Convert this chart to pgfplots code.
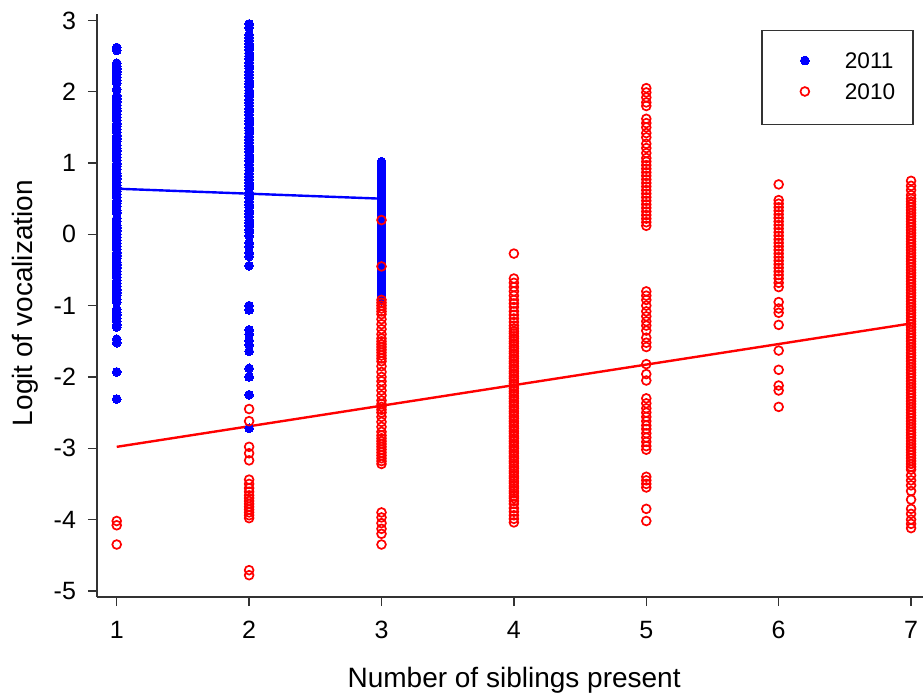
\documentclass[border=0pt]{standalone}
\usepackage{fontspec}
\setmainfont{Liberation Sans}
\usepackage{pgfplots}
\pgfplotsset{compat=1.18}
\begin{document}
\begin{tikzpicture}
\path[use as bounding box] (0,0) rectangle (461.5pt,346.5pt);
\begin{axis}[
 at={(48.5pt,48pt)}, anchor=south west,
 scale only axis, width=413pt, height=291.5pt,
 xmin=0.851, xmax=7.09, ymin=-5.086, ymax=3.09,
 axis lines=left,
 axis line style={-, draw=black!80, line width=0.75pt},
 tick align=outside, major tick length=4.5pt,
 tick style={black!80, line width=0.75pt},
 xtick={1,2,3,4,5,6,7}, ytick={-5,-4,-3,-2,-1,0,1,2,3},
 ticklabel style={font=\fontsize{12.5}{14}\selectfont},
 xticklabel style={yshift=-4pt},
 yticklabel style={xshift=-2.5pt},
 /pgf/number format/assume math mode=true,
 xlabel={Number of siblings present},
 ylabel={Logit of vocalization},
 label style={font=\fontsize{14}{16}\selectfont},
 xlabel style={at={(axis description cs:0.505,-0.156)}, anchor=base},
 ylabel style={at={(axis description cs:-0.0775,0.504)}, anchor=base, rotate=0},
 legend cell align=left,
 legend style={at={(0.989,0.9726)}, anchor=north east, draw=black!80, line width=0.75pt,
   inner xsep=0pt, inner ysep=11pt, row sep=6.1pt,
   font=\fontsize{11.3}{13}\selectfont, nodes={inner sep=0pt, anchor=base west}},
 legend image code/.code={\path[draw=none,fill=none] (0pt,0pt) rectangle (41.5pt,0.01pt); \draw[#1] plot coordinates {(21.5pt,4pt)};},
]
% 2011
\addplot[only marks, mark=*, mark size=2.2pt, color=blue, mark options={fill=blue, draw=blue, line width=0pt}] coordinates {
(1,2.62)(1,2.58)(1,2.40)(1,2.36)(1,2.32)(1,2.28)(1,2.24)(1,2.20)(1,2.16)(1,2.12)(1,2.03)(1,1.94)(1,1.90)(1,1.86)(1,1.81)(1,1.77)(1,1.73)(1,1.68)(1,1.64)(1,1.60)
(1,1.55)(1,1.51)(1,1.47)(1,1.43)(1,1.38)(1,1.34)(1,1.30)(1,1.25)(1,1.21)(1,1.17)(1,1.12)(1,1.08)(1,1.04)(1,0.99)(1,0.95)(1,0.91)(1,0.86)(1,0.82)(1,0.78)(1,0.73)
(1,0.69)(1,0.65)(1,0.60)(1,0.56)(1,0.52)(1,0.47)(1,0.43)(1,0.39)(1,0.34)(1,0.30)(1,0.22)(1,0.18)(1,0.13)(1,0.09)(1,0.05)(1,0.00)(1,-0.04)(1,-0.08)(1,-0.13)(1,-0.17)
(1,-0.21)(1,-0.26)(1,-0.30)(1,-0.34)(1,-0.39)(1,-0.43)(1,-0.47)(1,-0.52)(1,-0.56)(1,-0.60)(1,-0.65)(1,-0.69)(1,-0.73)(1,-0.78)(1,-0.82)(1,-0.86)(1,-0.91)(1,-0.95)
(1,-1.05)(1,-1.09)(1,-1.13)(1,-1.18)(1,-1.22)(1,-1.27)(1,-1.30)(1,-1.47)(1,-1.52)(1,-1.93)(1,-2.31)
(2,2.95)(2,2.90)(2,2.80)(2,2.76)(2,2.72)(2,2.67)(2,2.63)(2,2.59)(2,2.54)(2,2.50)(2,2.46)(2,2.41)(2,2.37)(2,2.33)(2,2.28)(2,2.24)(2,2.20)(2,2.15)(2,2.11)(2,2.07)
(2,2.02)(2,1.98)(2,1.94)(2,1.89)(2,1.85)(2,1.81)(2,1.76)(2,1.72)(2,1.68)(2,1.63)(2,1.59)(2,1.55)(2,1.50)(2,1.46)(2,1.42)(2,1.37)(2,1.33)(2,1.29)(2,1.24)(2,1.20)
(2,1.16)(2,1.11)(2,1.07)(2,1.03)(2,0.98)(2,0.94)(2,0.90)(2,0.85)(2,0.81)(2,0.77)(2,0.72)(2,0.68)(2,0.64)(2,0.59)(2,0.55)(2,0.51)(2,0.46)(2,0.42)(2,0.38)(2,0.33)
(2,0.29)(2,0.25)(2,0.20)(2,0.16)(2,0.12)(2,0.07)(2,0.03)(2,-0.02)(2,-0.12)(2,-0.17)(2,-0.26)(2,-0.31)(2,-0.44)
(2,-1.00)(2,-1.06)(2,-1.34)(2,-1.40)(2,-1.49)(2,-1.55)(2,-1.64)(2,-1.88)(2,-2.00)(2,-2.25)(2,-2.72)
(3,1.02)(3,0.98)(3,0.94)(3,0.89)(3,0.85)(3,0.81)(3,0.76)(3,0.72)(3,0.68)(3,0.63)(3,0.59)(3,0.55)(3,0.50)(3,0.46)(3,0.42)(3,0.37)(3,0.33)(3,0.29)(3,0.24)(3,0.20)
(3,0.16)(3,0.11)(3,0.07)(3,0.03)(3,-0.02)(3,-0.06)(3,-0.10)(3,-0.15)(3,-0.19)(3,-0.23)(3,-0.28)(3,-0.32)(3,-0.36)(3,-0.41)(3,-0.45)(3,-0.49)(3,-0.54)(3,-0.58)
(3,-0.62)(3,-0.67)(3,-0.71)(3,-0.75)(3,-0.80)(3,-0.84)(3,-0.88)(3,-0.93)
};
\addlegendentry{2011\hspace*{9pt}}
% 2010
\addplot[only marks, mark=o, mark size=2.2pt, color=red, mark options={draw=red, line width=0.85pt}] coordinates {
(1,-4.02)(1,-4.08)(1,-4.35)
(2,-2.45)(2,-2.62)(2,-2.98)(2,-3.07)(2,-3.17)(2,-3.44)(2,-3.50)(2,-3.56)(2,-3.61)(2,-3.66)(2,-3.70)(2,-3.74)(2,-3.78)(2,-3.82)(2,-3.86)(2,-3.90)(2,-3.94)(2,-3.98)(2,-4.71)(2,-4.78)
(3,0.20)(3,-0.45)(3,-0.92)(3,-0.96)(3,-1.00)(3,-1.04)(3,-1.08)(3,-1.12)(3,-1.19)(3,-1.26)(3,-1.33)(3,-1.40)(3,-1.46)(3,-1.50)(3,-1.54)(3,-1.58)(3,-1.62)(3,-1.66)
(3,-1.70)(3,-1.74)(3,-1.78)(3,-1.85)(3,-1.93)(3,-2.00)(3,-2.06)(3,-2.12)(3,-2.19)(3,-2.26)(3,-2.33)(3,-2.38)(3,-2.42)(3,-2.46)(3,-2.50)(3,-2.56)(3,-2.63)(3,-2.70)
(3,-2.77)(3,-2.82)(3,-2.86)(3,-2.90)(3,-2.94)(3,-2.98)(3,-3.02)(3,-3.06)(3,-3.10)(3,-3.14)(3,-3.18)(3,-3.22)(3,-3.90)(3,-3.97)(3,-4.05)(3,-4.13)(3,-4.20)(3,-4.35)
(4,-0.27)(4,-0.62)(4,-0.68)(4,-0.74)(4,-0.80)(4,-0.86)(4,-0.92)(4,-0.97)(4,-1.02)(4,-1.08)(4,-1.13)(4,-1.18)(4,-1.23)(4,-1.28)
(4,-1.32)(4,-1.36)(4,-1.39)(4,-1.43)(4,-1.46)(4,-1.50)(4,-1.53)(4,-1.57)(4,-1.60)(4,-1.64)(4,-1.67)(4,-1.71)(4,-1.74)(4,-1.78)(4,-1.81)(4,-1.85)(4,-1.88)(4,-1.92)
(4,-1.95)(4,-1.99)(4,-2.02)(4,-2.06)(4,-2.09)(4,-2.13)(4,-2.16)(4,-2.20)(4,-2.23)(4,-2.27)(4,-2.30)(4,-2.34)(4,-2.37)(4,-2.41)(4,-2.44)(4,-2.48)(4,-2.51)(4,-2.55)
(4,-2.58)(4,-2.62)(4,-2.65)(4,-2.69)(4,-2.72)(4,-2.76)(4,-2.79)(4,-2.83)(4,-2.86)(4,-2.90)(4,-2.93)(4,-2.97)(4,-3.00)(4,-3.04)(4,-3.07)(4,-3.11)(4,-3.14)(4,-3.18)
(4,-3.21)(4,-3.25)(4,-3.28)(4,-3.32)(4,-3.35)(4,-3.39)(4,-3.42)(4,-3.46)(4,-3.49)(4,-3.53)(4,-3.56)(4,-3.60)(4,-3.63)(4,-3.67)(4,-3.70)(4,-3.74)(4,-3.78)(4,-3.84)
(4,-3.89)(4,-3.94)(4,-3.99)(4,-4.04)
(5,2.05)(5,1.99)(5,1.92)(5,1.85)(5,1.80)(5,1.62)(5,1.56)(5,1.50)(5,1.42)(5,1.36)(5,1.27)(5,1.21)(5,1.14)(5,1.07)(5,1.02)(5,0.97)(5,0.92)(5,0.87)(5,0.82)(5,0.77)
(5,0.72)(5,0.67)(5,0.62)(5,0.57)(5,0.52)(5,0.47)(5,0.42)(5,0.37)(5,0.32)(5,0.27)(5,0.22)(5,0.17)(5,0.12)
(5,-0.80)(5,-0.86)(5,-0.92)(5,-1.00)(5,-1.08)(5,-1.15)(5,-1.22)(5,-1.28)(5,-1.35)(5,-1.45)(5,-1.52)(5,-1.58)(5,-1.82)(5,-1.96)(5,-2.05)
(5,-2.30)(5,-2.37)(5,-2.44)(5,-2.50)(5,-2.56)(5,-2.62)(5,-2.68)(5,-2.73)(5,-2.79)(5,-2.85)(5,-2.91)(5,-2.97)(5,-3.02)(5,-3.40)(5,-3.45)(5,-3.50)(5,-3.55)(5,-3.85)(5,-4.02)
(6,0.70)(6,0.48)(6,0.43)(6,0.38)(6,0.33)(6,0.28)(6,0.23)(6,0.18)(6,0.13)(6,0.08)(6,0.03)(6,-0.02)(6,-0.07)(6,-0.12)(6,-0.17)(6,-0.22)(6,-0.27)(6,-0.32)(6,-0.37)
(6,-0.42)(6,-0.47)(6,-0.52)(6,-0.57)(6,-0.62)(6,-0.68)(6,-0.74)(6,-0.95)(6,-1.04)(6,-1.10)(6,-1.27)(6,-1.63)(6,-1.90)(6,-2.12)(6,-2.19)(6,-2.42)
(7,0.75)(7,0.68)(7,0.62)(7,0.55)(7,0.50)(7,0.46)(7,0.42)(7,0.38)(7,0.34)(7,0.30)(7,0.26)(7,0.22)(7,0.18)(7,0.14)(7,0.10)(7,0.06)(7,0.02)(7,-0.02)(7,-0.06)(7,-0.10)
(7,-0.14)(7,-0.18)(7,-0.22)(7,-0.26)(7,-0.30)(7,-0.34)(7,-0.38)(7,-0.42)(7,-0.46)(7,-0.50)(7,-0.54)(7,-0.58)(7,-0.62)(7,-0.66)(7,-0.70)(7,-0.74)(7,-0.78)(7,-0.82)
(7,-0.86)(7,-0.90)(7,-0.94)(7,-0.98)(7,-1.02)(7,-1.06)(7,-1.10)(7,-1.14)(7,-1.18)(7,-1.22)(7,-1.26)(7,-1.30)(7,-1.34)(7,-1.38)(7,-1.42)(7,-1.46)(7,-1.50)(7,-1.54)
(7,-1.58)(7,-1.62)(7,-1.66)(7,-1.70)(7,-1.74)(7,-1.78)(7,-1.82)(7,-1.86)(7,-1.90)(7,-1.94)(7,-1.98)(7,-2.02)(7,-2.06)(7,-2.10)(7,-2.14)(7,-2.18)(7,-2.22)(7,-2.26)
(7,-2.30)(7,-2.34)(7,-2.38)(7,-2.42)(7,-2.46)(7,-2.50)(7,-2.54)(7,-2.58)(7,-2.62)(7,-2.66)(7,-2.70)(7,-2.74)(7,-2.78)(7,-2.82)(7,-2.86)(7,-2.90)(7,-2.94)(7,-2.98)
(7,-3.02)(7,-3.06)(7,-3.10)(7,-3.14)(7,-3.18)(7,-3.22)(7,-3.26)(7,-3.30)(7,-3.38)(7,-3.45)(7,-3.52)(7,-3.60)(7,-3.72)(7,-3.85)(7,-3.92)(7,-4.00)(7,-4.06)(7,-4.12)
};
\addlegendentry{2010\hspace*{9pt}}
% fitted lines
\addplot[blue, line width=1.2pt, mark=none, forget plot] coordinates {(1,0.64)(3,0.50)};
\addplot[red, line width=1.2pt, mark=none, forget plot] coordinates {(1,-2.98)(7,-1.25)};
\end{axis}
\end{tikzpicture}
\end{document}
